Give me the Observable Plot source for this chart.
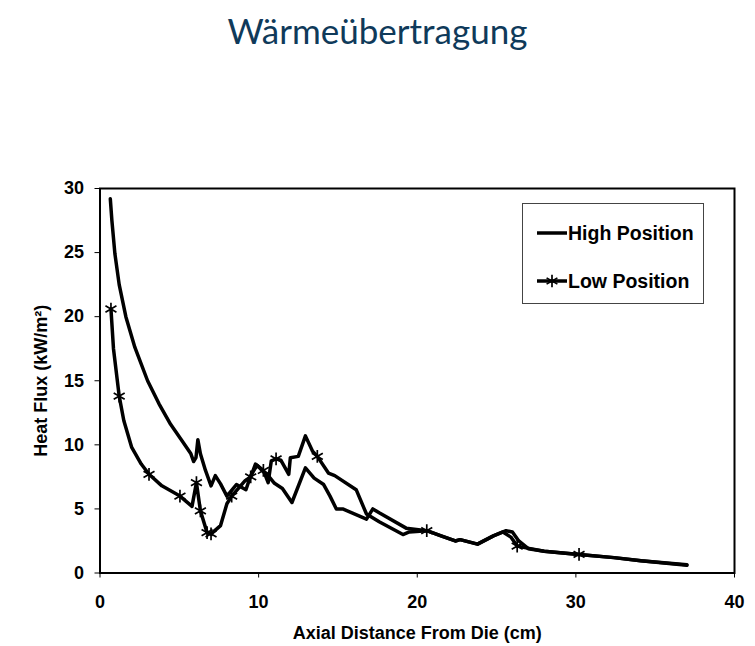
<!DOCTYPE html>
<html>
<head>
<meta charset="utf-8">
<script src="https://cdn.jsdelivr.net/npm/d3@7"></script>
<script src="https://cdn.jsdelivr.net/npm/@observablehq/plot@0.6"></script>
<style>
  html, body { margin: 0; padding: 0; background: #fff; }
  #wrap { position: relative; width: 755px; height: 646px; overflow: hidden; }
  #title { height: 80px; box-sizing: border-box; padding-top: 8px; text-align: center;
           font-family: Lato, "Open Sans", sans-serif; font-size: 35px; line-height: 44px; color: #0f3a5a; }
  #legend { position: absolute; left: 522px; top: 203px; width: 182px; height: 101px;
            border: 1px solid #444; box-sizing: border-box; }
  #chart svg { display: block; }
</style>
</head>
<body>
<div id="wrap">
  <div id="title">Wärmeübertragung</div>
  <div id="chart"></div>
  <svg id="legend" width="182" height="101"></svg>
</div>
<script>
const titleText = "Wärmeübertragung";
const xLabel = "Axial Distance From Die (cm)";
const yLabel = "Heat Flux (kW/m²)";
const seriesNames = ["High Position", "Low Position"];
const xTicks = [0, 10, 20, 30, 40];
const yTicks = [0, 5, 10, 15, 20, 25, 30];

// High Position (no markers)
const highX = [0.65, 0.75, 0.94, 1.21, 1.63, 2.2, 3.0, 3.72, 4.45, 5.18, 5.73, 5.9, 6.05, 6.17, 6.33, 6.65, 7.0, 7.27, 7.6, 8.0,
  8.6, 9.2, 9.5, 9.9, 10.3, 10.6, 11.0, 11.5, 12.1, 12.95, 13.5, 14.1, 14.5, 14.9, 15.3, 16.8, 17.2, 17.6, 19.3, 20.6,
  21.5, 22.4, 22.7, 23.8, 24.8, 25.6, 26.0, 26.4, 27.0, 28.0, 30.2, 32.4, 34.1, 37.0];
const highY = [29.2, 27.5, 24.9, 22.5, 20.0, 17.6, 15.0, 13.2, 11.6, 10.3, 9.3, 8.7, 9.0, 10.4, 9.3, 8.0, 6.8, 7.6, 6.95, 6.0,
  6.9, 6.5, 7.6, 8.4, 7.9, 7.6, 7.0, 6.6, 5.5, 8.2, 7.4, 6.9, 6.0, 5.0, 5.0, 4.2, 5.0, 4.7, 3.5, 3.3,
  2.9, 2.5, 2.6, 2.25, 2.9, 3.3, 3.2, 2.5, 1.9, 1.7, 1.45, 1.2, 0.95, 0.65];

// Low Position (with asterisk markers)
const lowX = [0.69, 0.85, 1.21, 1.5, 2.0, 2.6, 3.09, 3.9, 5.04, 5.8, 6.08, 6.33, 6.75, 7.0, 7.6, 8.0, 8.3, 9.15, 9.5, 9.8,
  10.3, 10.6, 10.8, 11.1, 11.4, 11.9, 12.0, 12.5, 12.95, 13.4, 13.7, 14.4, 14.8, 16.15, 16.8, 17.6, 19.1, 19.5, 20.6, 21.5,
  22.4, 22.7, 23.8, 24.8, 25.4, 25.9, 26.3, 26.7, 28.0, 30.2, 32.4, 34.1, 37.0];
const lowY = [20.6, 17.5, 13.8, 11.9, 9.8, 8.5, 7.7, 6.8, 6.0, 5.2, 7.05, 4.85, 3.15, 3.05, 3.7, 5.4, 6.0, 7.2, 7.5, 8.5,
  8.0, 7.05, 8.75, 8.9, 8.8, 7.7, 9.0, 9.1, 10.7, 9.5, 9.1, 7.8, 7.6, 6.5, 4.6, 4.0, 3.0, 3.2, 3.3, 2.9,
  2.5, 2.6, 2.25, 2.9, 3.2, 2.8, 2.1, 2.0, 1.7, 1.45, 1.2, 0.95, 0.6];
const markerX = [0.69, 1.21, 3.09, 5.04, 6.08, 6.33, 6.75, 7.0, 8.3, 9.5, 10.3, 11.1, 13.7, 20.6, 26.3, 30.2];
const markerY = [20.6, 13.8, 7.7, 6.0, 7.05, 4.85, 3.15, 3.05, 6.0, 7.5, 8.0, 8.9, 9.1, 3.3, 2.1, 1.45];

const high = highX.map((x, i) => ({x, y: highY[i]}));
const low = lowX.map((x, i) => ({x, y: lowY[i]}));
const markers = markerX.map((x, i) => ({x, y: markerY[i]}));

const font = "'Liberation Sans', Arial, sans-serif";
const chart = Plot.plot({
  width: 755,
  height: 566,
  marginTop: 108,
  marginBottom: 73.5,
  marginLeft: 99.5,
  marginRight: 21,
  style: {fontFamily: font, color: "#000", background: "#fff", overflow: "visible"},
  x: {domain: [0, 40]},
  y: {domain: [0, 30]},
  marks: [
    Plot.axisX({ticks: xTicks, tickSize: 5, tickPadding: 17, fontSize: 18, fontWeight: "bold",
      stroke: "#000", label: xLabel, labelAnchor: "center", labelArrow: "none", labelOffset: 66}),
    Plot.axisY({ticks: yTicks, tickSize: 5, tickPadding: 11, fontSize: 18, fontWeight: "bold",
      stroke: "#000", label: yLabel, labelAnchor: "center", labelArrow: "none", labelOffset: 66}),
    Plot.frame({stroke: "#000", strokeWidth: 2}),
    Plot.line(high, {x: "x", y: "y", stroke: "#000", strokeWidth: 3.5, strokeLinejoin: "round", strokeLinecap: "round"}),
    Plot.line(low, {x: "x", y: "y", stroke: "#000", strokeWidth: 3.5, strokeLinejoin: "round", strokeLinecap: "round"}),
    Plot.dot(markers, {x: "x", y: "y", symbol: "asterisk", r: 6, stroke: "#000", strokeWidth: 1.7})
  ]
});
document.getElementById("chart").appendChild(chart);

// Legend
const lg = d3.select("#legend");
const rows = [{name: seriesNames[0], y: 29, marker: false}, {name: seriesNames[1], y: 77, marker: true}];
rows.forEach(r => {
  lg.append("line").attr("x1", 14).attr("x2", 44).attr("y1", r.y).attr("y2", r.y)
    .attr("stroke", "#000").attr("stroke-width", 3.5);
  if (r.marker) {
    lg.append("path").attr("transform", `translate(29,${r.y})`)
      .attr("d", d3.symbol(d3.symbolAsterisk, 110)())
      .attr("stroke", "#000").attr("stroke-width", 1.7).attr("fill", "none");
  }
  lg.append("text").attr("x", 45).attr("y", r.y + 7).text(r.name)
    .attr("font-family", font).attr("font-weight", "bold").attr("font-size", 19.5).attr("fill", "#000");
});
</script>
</body>
</html>
